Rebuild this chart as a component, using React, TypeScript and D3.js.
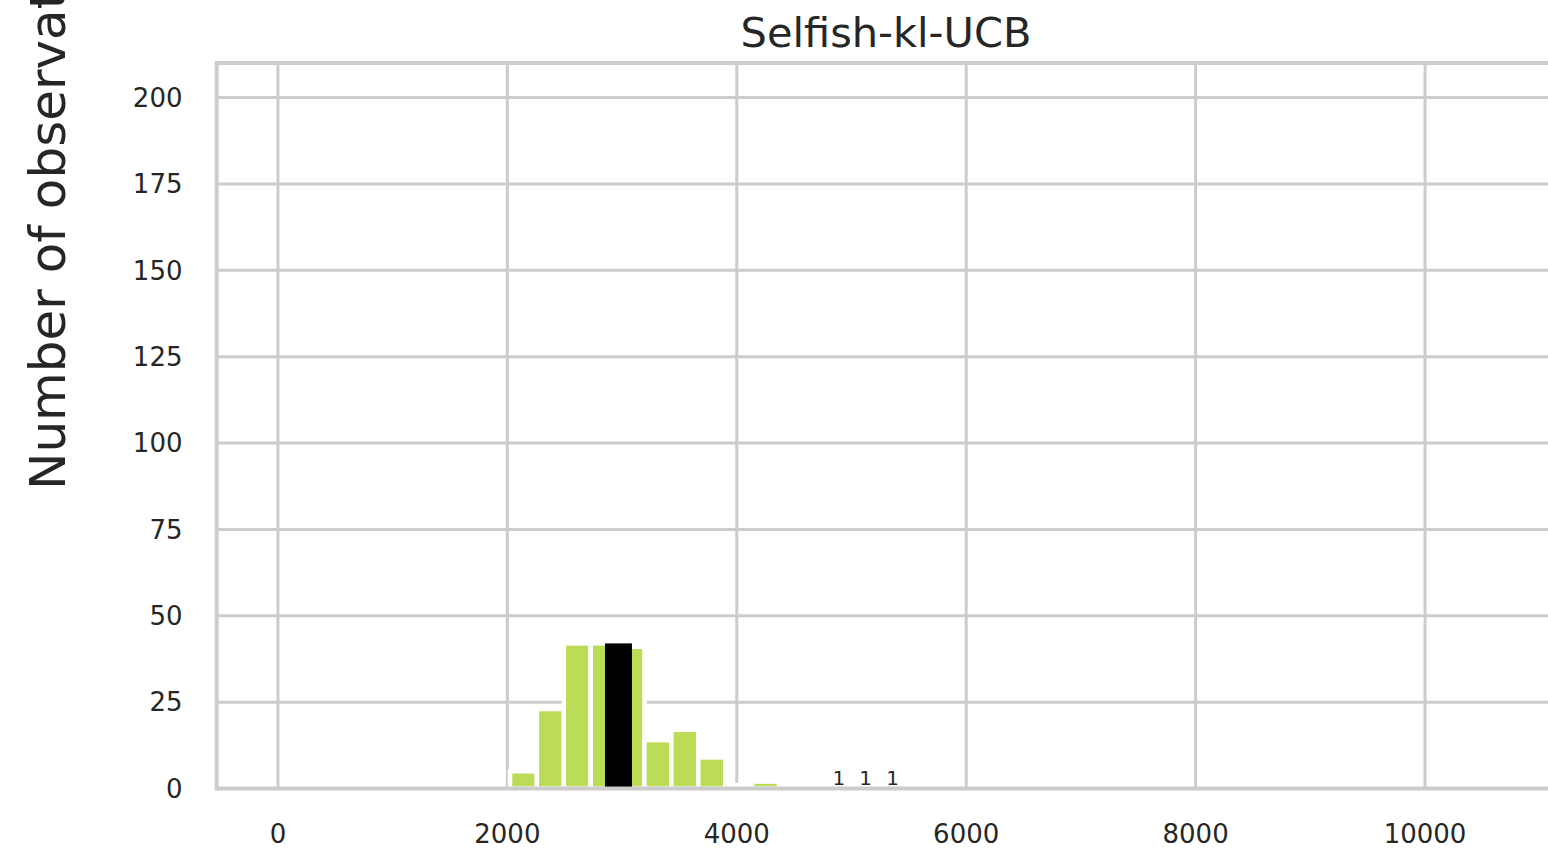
import React from "react";
import * as d3 from "d3";

const title = "Selfish-kl-UCB";
const yLabel = "Number of observations";
const binEdges = [2023, 2257, 2492, 2726, 2961, 3195, 3430, 3664, 3899, 4133, 4368];
const binCounts = [5, 23, 42, 42, 41, 14, 17, 9, 1, 2];
const highlightBin = [2851, 3086];
const highlightCount = 42;
const annotX = [4891, 5124, 5359];
const annotText = ["1", "1", "1"];
const xTicks = [0, 2000, 4000, 6000, 8000, 10000];
const yTicks = [0, 25, 50, 75, 100, 125, 150, 175, 200];

const W = 1548;
const H = 851;
const left = 216.7;
const right = 1555;
const top = 63;
const bottom = 788.5;
const grid = "#cccccc";
const textCol = "#262626";
const font = "'DejaVu Sans', sans-serif";

export default function App() {
  const x = d3.scaleLinear().domain([-534, 11133]).range([left, right]);
  const y = d3.scaleLinear().domain([0, 210]).range([bottom, top]);
  return (
    <svg width={W} height={H} style={{ position: "absolute", left: 0, top: 0, background: "#fff" }} fontFamily={font}>
      <defs>
        <clipPath id="plot">
          <rect x={left} y={top} width={right - left} height={bottom - top} />
        </clipPath>
      </defs>
      {xTicks.map((t) => (
        <line key={"gx" + t} x1={x(t)} x2={x(t)} y1={top} y2={bottom} stroke={grid} strokeWidth={3} />
      ))}
      {yTicks.map((t) => (
        <line key={"gy" + t} x1={left} x2={right} y1={y(t)} y2={y(t)} stroke={grid} strokeWidth={3} />
      ))}
      <g clipPath="url(#plot)">
        {binCounts.map((c, i) => (
          <rect
            key={"b" + i}
            x={x(binEdges[i])}
            y={y(c)}
            width={x(binEdges[i + 1]) - x(binEdges[i])}
            height={y(0) - y(c)}
            fill="#bcdc57"
            stroke="#ffffff"
            strokeWidth={4.5}
          />
        ))}
        <rect
          x={x(highlightBin[0])}
          y={y(highlightCount)}
          width={x(highlightBin[1]) - x(highlightBin[0])}
          height={y(0) - y(highlightCount)}
          fill="#000000"
        />
      </g>
      {annotX.map((v, i) => (
        <text key={"a" + i} x={x(v)} y={785} textAnchor="middle" fontSize={20} fill={textCol}>
          {annotText[i]}
        </text>
      ))}
      {/* spines */}
      <line x1={left} x2={left} y1={top - 2} y2={bottom + 2} stroke={grid} strokeWidth={4} />
      <line x1={left} x2={right} y1={top} y2={top} stroke={grid} strokeWidth={4} />
      <line x1={left} x2={right} y1={bottom} y2={bottom} stroke={grid} strokeWidth={4} />
      {xTicks.map((t) => (
        <text key={"tx" + t} x={x(t)} y={842.5} textAnchor="middle" fontSize={26} fill={textCol}>
          {t}
        </text>
      ))}
      {yTicks.map((t) => (
        <text key={"ty" + t} x={182.5} y={y(t)} dy="0.36em" textAnchor="end" fontSize={26} fill={textCol}>
          {t}
        </text>
      ))}
      <text x={886} y={46.5} textAnchor="middle" fontSize={41.5} fill={textCol}>
        {title}
      </text>
      <text transform="translate(65,490) rotate(-90)" textAnchor="start" fontSize={50} fill={textCol}>
        {yLabel}
      </text>
    </svg>
  );
}
